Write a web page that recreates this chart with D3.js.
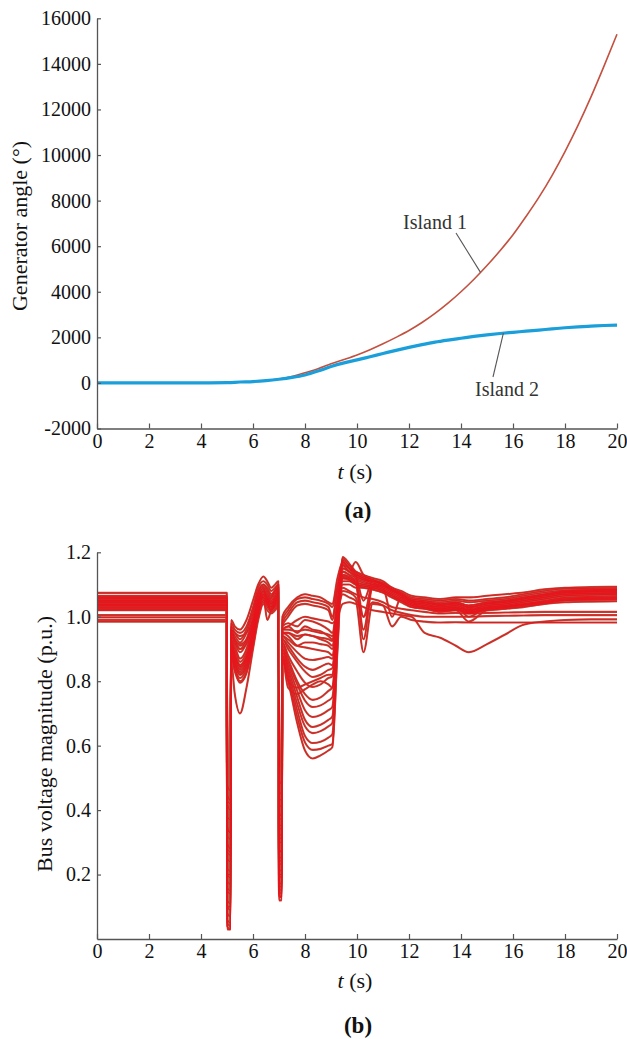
<!DOCTYPE html>
<html>
<head>
<meta charset="utf-8">
<script src="https://cdn.jsdelivr.net/npm/d3@7"></script>
<style>
  html, body { margin: 0; padding: 0; background: #fff; }
  svg text { font-family: "Liberation Serif", Tinos, "Times New Roman", "DejaVu Serif", serif; }
</style>
</head>
<body>
<svg id="fig" width="627" height="1039"></svg>
<script>
// ---- (a) generator rotor angles of the two islands ----
const timeA = [0, 1, 2, 3, 4, 5, 5.5, 6, 6.5, 7, 7.5, 8, 8.5, 9, 9.5, 10, 10.5, 11, 11.5, 12,
  12.5, 13, 13.5, 14, 14.5, 15, 15.5, 16, 16.5, 17, 17.5, 18, 18.5, 19, 19.5, 20];
const island1 = [0, 0, 0, 0, 0, 10, 40, 60, 100, 170, 280, 450, 620, 840, 1030, 1230, 1460, 1720, 2000, 2300,
  2650, 3050, 3500, 4000, 4550, 5150, 5800, 6500, 7300, 8150, 9100, 10150, 11300, 12550, 13900, 15300];
const island2 = [0, 0, 0, 0, 0, 10, 40, 60, 100, 160, 240, 350, 520, 720, 880, 1010, 1150, 1290, 1430, 1560,
  1680, 1790, 1880, 1960, 2040, 2110, 2170, 2220, 2270, 2320, 2370, 2420, 2460, 2490, 2520, 2540];
const angleTicks = [-2000, 0, 2000, 4000, 6000, 8000, 10000, 12000, 14000, 16000];
const timeTicks = [0, 2, 4, 6, 8, 10, 12, 14, 16, 18, 20];

// ---- (b) bus voltage magnitudes ----
const timeB = [0, 4.99, 5.01, 5.13, 5.16, 5.3, 5.5, 5.75, 6.0, 6.2,
  6.4, 6.55, 6.7, 6.85, 6.97, 7.0, 7.1, 7.13, 7.35, 7.7,
  8.0, 8.3, 8.6, 8.9, 9.05, 9.25, 9.45, 9.7, 9.95, 10.25,
  10.6, 11.0, 11.35, 11.7, 12.1, 12.6, 13.2, 13.8, 14.3, 15.0,
  15.7, 16.4, 17.2, 18.0, 19.0, 20.0];
const voltageTicks = [0.2, 0.4, 0.6, 0.8, 1.0, 1.2];
const busVoltages = [
  [1.074,1.074,0.42,0.40,0.99, 0.97,0.96,0.99,1.05,1.10, 1.125,1.11,1.09,1.10,1.11, 0.46,0.45,1.00,1.03,1.06, 1.07,1.065,1.06,1.045,1.04, 1.12,1.17,1.15,1.14,1.13, 1.12,1.11,1.09,1.08,1.065, 1.06,1.055,1.06,1.06,1.065, 1.07,1.075,1.085,1.09,1.092, 1.093],
  [1.065,1.065,0.35,0.33,0.98, 0.96,0.95,0.97,1.03,1.09, 1.11,1.10,1.08,1.09,1.10, 0.40,0.38,0.99,1.02,1.055, 1.06,1.055,1.05,1.04,1.03, 1.10,1.16,1.14,1.13,1.12, 1.11,1.10,1.085,1.075,1.06, 1.055,1.05,1.055,1.05,1.055, 1.06,1.07,1.08,1.087,1.088, 1.089],
  [1.062,1.062,0.30,0.28,0.97, 0.95,0.93,0.96,1.02,1.08, 1.10,1.09,1.07,1.08,1.09, 0.36,0.35,0.98,1.01,1.045, 1.05,1.045,1.04,1.03,1.00, 1.09,1.16,1.14,1.17,1.13, 1.115,1.10,1.08,1.07,1.055, 1.05,1.045,1.05,1.045,1.05, 1.055,1.065,1.075,1.082,1.084, 1.085],
  [1.06,1.06,0.25,0.24,0.96, 0.94,0.92,0.95,1.01,1.075, 1.10,1.085,1.065,1.085,1.10, 0.32,0.31,0.97,1.00,1.035, 1.04,1.035,1.03,1.02,0.99, 1.08,1.17,1.15,1.13,1.05, 1.11,1.105,1.085,1.07,1.05, 1.045,1.04,1.045,1.035,1.045, 1.05,1.06,1.07,1.078,1.08, 1.08],
  [1.057,1.057,0.20,0.19,0.96, 0.93,0.90,0.93,1.00,1.07, 1.095,1.08,1.06,1.08,1.095, 0.28,0.27,0.97,0.98,0.97, 0.99,0.985,0.975,0.96,0.95, 1.06,1.15,1.14,1.125,1.115, 1.11,1.10,1.085,1.07,1.05, 1.045,1.035,1.04,1.03,1.04, 1.045,1.055,1.065,1.074,1.076, 1.077],
  [1.055,1.055,0.45,0.43,0.95, 0.92,0.89,0.92,0.99,1.06, 1.09,1.04,1.06,1.075,1.09, 0.50,0.48,0.96,0.97,0.95, 0.97,0.96,0.955,0.94,0.93, 1.05,1.14,1.13,1.12,1.00, 1.10,1.095,1.08,1.065,1.045, 1.04,1.03,1.035,1.025,1.035, 1.04,1.05,1.06,1.07,1.072, 1.073],
  [1.052,1.052,0.15,0.14,0.94, 0.91,0.87,0.90,0.98,1.06, 1.09,1.075,1.055,1.07,1.085, 0.22,0.21,0.95,0.95,0.93, 0.945,0.94,0.93,0.92,0.91, 1.04,1.13,1.125,1.115,1.105, 1.10,1.09,1.00,1.06,1.045, 1.035,1.03,1.03,1.02,1.03, 1.035,1.045,1.055,1.065,1.068, 1.07],
  [1.05,1.05,0.10,0.10,0.93, 0.90,0.86,0.89,0.97,1.05, 1.085,1.07,1.05,1.065,1.08, 0.18,0.17,0.95,0.94,0.91, 0.905,0.90,0.895,0.89,0.88, 1.03,1.125,1.12,1.11,0.96, 1.095,1.09,1.075,1.06,1.04, 1.035,1.025,1.03,1.00,1.03, 1.035,1.04,1.05,1.06,1.063, 1.065],
  [1.048,1.048,0.08,0.07,0.93, 0.89,0.85,0.88,0.96,1.045, 1.08,1.065,1.045,1.06,1.075, 0.15,0.14,0.94,0.92,0.89, 0.87,0.866,0.87,0.875,0.87, 1.00,1.12,1.115,1.105,1.10, 1.095,1.085,1.07,1.055,1.04, 1.03,1.025,1.028,1.02,1.028, 1.032,1.04,1.048,1.058,1.06, 1.062],
  [1.045,1.045,0.05,0.04,0.92, 0.88,0.845,0.875,0.955,1.04, 1.075,1.06,1.04,1.055,1.07, 0.13,0.13,0.93,0.90,0.86, 0.83,0.813,0.82,0.835,0.84, 0.99,1.11,1.11,1.10,1.095, 1.09,1.08,1.065,1.05,1.035, 1.03,1.02,1.025,1.015,1.025, 1.03,1.037,1.045,1.055,1.057, 1.058],
  [1.043,1.043,0.03,0.03,0.91, 0.87,0.84,0.87,0.95,1.035, 1.07,1.055,1.04,1.05,1.065, 0.12,0.12,0.92,0.88,0.83, 0.795,0.782,0.79,0.81,0.815, 0.98,1.12,1.115,1.10,1.09, 1.085,1.075,1.06,1.05,1.035, 1.028,1.02,1.022,1.012,1.022, 1.028,1.035,1.042,1.052,1.054, 1.055],
  [1.04,1.04,0.18,0.17,0.91, 0.87,0.835,0.865,0.945,1.03, 1.07,1.055,1.035,1.05,1.06, 0.25,0.24,0.92,0.87,0.80, 0.76,0.742,0.75,0.77,0.78, 0.97,1.13,1.12,1.105,0.93, 1.09,1.08,1.065,1.05,1.03, 1.025,1.018,1.02,1.01,1.02, 1.025,1.032,1.04,1.05,1.052, 1.053],
  [1.038,1.038,0.12,0.11,0.92, 0.88,0.85,0.88,0.96,1.04, 1.08,1.06,1.04,1.055,1.065, 0.20,0.19,0.91,0.86,0.79, 0.74,0.72,0.725,0.74,0.75, 0.96,1.14,1.13,1.11,1.10, 1.095,1.085,1.07,1.055,1.035, 1.03,1.02,1.024,1.013,1.024, 1.03,1.038,1.046,1.055,1.058, 1.06],
  [1.035,1.035,0.06,0.05,0.90, 0.86,0.83,0.86,0.94,1.03, 1.065,1.05,1.03,1.045,1.06, 0.14,0.13,0.90,0.85,0.77, 0.71,0.689,0.695,0.71,0.72, 0.95,1.15,1.14,1.12,1.11, 1.10,1.09,1.075,1.06,1.04, 1.035,1.025,1.03,1.018,1.03, 1.035,1.045,1.055,1.065,1.068, 1.07],
  [1.033,1.033,0.28,0.27,0.90, 0.855,0.82,0.85,0.93,1.02, 1.06,1.045,1.03,1.045,1.055, 0.30,0.30,0.90,0.84,0.75, 0.68,0.658,0.665,0.68,0.69, 0.94,1.16,1.15,1.13,1.115, 1.105,1.095,1.08,1.065,1.045, 1.04,1.03,1.035,1.022,1.035, 1.04,1.05,1.06,1.07,1.073, 1.075],
  [1.03,1.03,0.38,0.37,0.89, 0.85,0.82,0.845,0.925,1.015, 1.055,1.04,1.025,1.04,1.05, 0.42,0.41,0.89,0.83,0.73, 0.66,0.639,0.645,0.66,0.67, 0.93,1.175,1.16,1.135,1.12, 1.11,1.10,1.085,1.07,1.05, 1.045,1.035,1.04,1.028,1.04, 1.045,1.055,1.065,1.075,1.078, 1.08],
  [1.028,1.028,0.22,0.21,0.88, 0.84,0.81,0.84,0.92,1.01, 1.05,1.04,1.02,1.035,1.045, 0.26,0.25,0.88,0.82,0.71, 0.63,0.608,0.612,0.625,0.635, 0.92,1.185,1.165,1.14,1.125, 1.115,1.10,1.085,1.07,1.05, 1.045,1.038,1.042,1.03,1.042, 1.048,1.058,1.068,1.078,1.081, 1.083],
  [1.025,1.025,0.16,0.15,0.88, 0.84,0.80,0.83,0.915,1.005, 1.05,1.035,1.02,1.03,1.04, 0.20,0.20,0.87,0.81,0.69, 0.61,0.587,0.59,0.60,0.605, 0.91,1.18,1.16,1.14,1.125, 1.115,1.105,1.09,1.075,1.055, 1.05,1.04,1.045,1.035,1.045, 1.05,1.06,1.07,1.08,1.083, 1.085],
  [1.022,1.022,0.04,0.03,0.87, 0.83,0.795,0.825,0.91,1.00, 1.045,1.03,1.015,1.025,1.035, 0.16,0.15,0.86,0.80,0.67, 0.585,0.56,0.57,0.585,0.595, 0.90,1.17,1.155,1.135,1.12, 1.11,1.10,1.085,1.07,1.05, 1.045,1.035,1.04,1.03,1.04, 1.045,1.055,1.065,1.075,1.078, 1.08],
  [1.02,1.02,0.48,0.46,0.86, 0.76,0.70,0.78,0.90,0.99, 1.04,1.02,1.01,1.02,1.03, 0.35,0.34,0.88,0.80,0.78, 0.79,0.80,0.81,0.82,0.82, 0.98,1.10,1.10,1.09,1.09, 1.085,1.075,1.06,1.045,1.03, 1.025,1.015,1.02,0.985,1.02, 1.025,1.03,1.04,1.045,1.047, 1.048],
  [1.005,1.005,0.32,0.31,0.95, 0.93,0.915,0.93,0.98,1.04, 1.07,1.05,1.03,1.045,1.06, 0.38,0.37,0.96,0.96,0.955, 0.96,0.955,0.95,0.945,0.94, 1.02,1.09,1.08,1.07,1.06, 1.055,1.045,1.03,1.025,1.02, 1.015,1.01,1.012,1.01,1.012, 1.013,1.014,1.015,1.015,1.015, 1.015],
  [0.998,0.998,0.27,0.26,0.95, 0.93,0.91,0.925,0.975,1.035, 1.06,0.99,1.02,1.04,1.05, 0.33,0.32,0.95,0.95,0.94, 0.945,0.94,0.935,0.93,0.925, 1.01,1.07,1.06,1.05,0.89, 1.04,1.035,1.02,1.012,1.005, 1.00,1.00,1.00,1.00,1.002, 1.003,1.004,1.005,1.005,1.005, 1.005],
  [0.99,0.99,0.20,0.20,0.96, 0.95,0.94,0.95,0.99,1.04, 1.065,1.045,1.02,1.035,1.045, 0.28,0.27,0.96,0.97,0.99, 1.00,0.995,0.99,0.985,0.98, 1.00,1.04,1.045,1.04,1.03, 1.02,1.015,1.01,1.005,1.00, 0.95,0.935,0.91,0.89,0.915, 0.945,0.975,0.985,0.99,0.992, 0.992],
  [0.985,0.985,0.43,0.42,0.94, 0.92,0.90,0.915,0.97,1.03, 1.06,1.04,1.02,1.035,1.045, 0.44,0.43,0.94,0.93,0.91, 0.92,0.92,0.915,0.91,0.90, 1.00,1.08,1.075,1.06,1.00, 1.045,1.035,0.97,1.00,0.99, 0.985,0.982,0.983,0.982,0.982, 0.982,0.982,0.982,0.982,0.982, 0.982],
  [1.046,1.046,0.10,0.09,0.92, 0.88,0.845,0.87,0.95,1.04, 1.08,1.06,1.045,1.06,1.075, 0.17,0.16,0.93,0.91,0.87, 0.845,0.835,0.845,0.855,0.85, 0.995,1.165,1.15,1.125,1.115, 1.105,1.095,1.08,1.065,1.045, 1.04,1.03,1.035,1.02,1.035, 1.04,1.05,1.06,1.07,1.072, 1.074],
  [1.036,1.036,0.34,0.33,0.90, 0.86,0.825,0.855,0.935,1.025, 1.06,1.045,1.03,1.045,1.055, 0.24,0.23,0.87,0.78,0.76, 0.775,0.79,0.80,0.79,0.78, 0.97,1.12,1.12,1.10,1.095, 1.09,1.08,1.065,1.05,1.035, 1.028,1.022,1.026,1.015,1.026, 1.03,1.036,1.044,1.052,1.055, 1.056]
];

const svg = d3.select("#fig");
const FONT = '"Liberation Serif", Tinos, "Times New Roman", "DejaVu Serif", serif';
const AXIS_COLOR = "#555";

function drawAxes(g, x, y, yTickValues, yFormat) {
  const xAxis = d3.axisBottom(x).tickValues(timeTicks).tickFormat(d => String(d))
    .tickSizeInner(-5).tickSizeOuter(0).tickPadding(5);
  const yAxis = d3.axisLeft(y).tickValues(yTickValues).tickFormat(yFormat)
    .tickSizeInner(-4).tickSizeOuter(0).tickPadding(6);
  const gx = g.append("g").attr("transform", `translate(0,${y.range()[0]})`).call(xAxis);
  const gy = g.append("g").attr("transform", `translate(${x.range()[0]},0)`).call(yAxis);
  [gx, gy].forEach(a => {
    a.attr("font-family", FONT).attr("font-size", 20);
    a.select(".domain").attr("stroke", AXIS_COLOR).attr("stroke-width", 1.3);
    a.selectAll(".tick line").attr("stroke", AXIS_COLOR).attr("stroke-width", 1.2);
    a.selectAll(".tick text").attr("fill", "#111").attr("font-family", FONT).attr("font-size", 20);
  });
}

function timeLabel(cx, baseline) {
  const t = svg.append("text").attr("x", cx).attr("y", baseline).attr("text-anchor", "middle")
    .attr("font-family", FONT).attr("font-size", 22).attr("fill", "#111");
  t.append("tspan").attr("font-style", "italic").text("t");
  t.append("tspan").text(" (s)");
}

function panelTag(cx, baseline, s) {
  svg.append("text").attr("x", cx).attr("y", baseline).attr("text-anchor", "middle")
    .attr("font-family", FONT).attr("font-size", 23).attr("font-weight", "bold")
    .attr("fill", "#111").text(s);
}

function yTitle(cx, cy, s) {
  svg.append("text").attr("transform", `translate(${cx},${cy}) rotate(-90)`)
    .attr("text-anchor", "middle").attr("dominant-baseline", "central")
    .attr("font-family", FONT).attr("font-size", 22).attr("fill", "#111").text(s);
}

// ---------- panel (a) ----------
const xA = d3.scaleLinear().domain([0, 20]).range([97, 617]);
const yA = d3.scaleLinear().domain([-2000, 16000]).range([428.5, 18.3]);
const gA = svg.append("g");

const lineA = vals => d3.line()
  .x((d, i) => xA(timeA[i])).y(d => yA(d)).curve(d3.curveMonotoneX)(vals);

gA.append("path").attr("d", lineA(island1)).attr("fill", "none")
  .attr("stroke", "#c4503f").attr("stroke-width", 1.6);
gA.append("path").attr("d", lineA(island2)).attr("fill", "none")
  .attr("stroke", "#1a9fdb").attr("stroke-width", 3.2);

drawAxes(gA, xA, yA, angleTicks, d => String(d));

// point on a sampled series at time t (for the leader lines)
function valueAt(series, t) {
  const i = d3.bisectRight(timeA, t) - 1;
  const f = (t - timeA[i]) / (timeA[i + 1] - timeA[i]);
  return series[i] + f * (series[i + 1] - series[i]);
}

const lab1 = { t: 14.75, x: 456, y: 233 };
const lab2 = { t: 15.63, x: 493, y: 377 };
gA.append("line").attr("x1", lab1.x).attr("y1", lab1.y)
  .attr("x2", xA(lab1.t)).attr("y2", yA(valueAt(island1, lab1.t)))
  .attr("stroke", "#555").attr("stroke-width", 1.1);
gA.append("line").attr("x1", lab2.x).attr("y1", lab2.y)
  .attr("x2", xA(lab2.t)).attr("y2", yA(valueAt(island2, lab2.t)))
  .attr("stroke", "#555").attr("stroke-width", 1.1);
gA.append("text").attr("x", 435).attr("y", 229).attr("text-anchor", "middle")
  .attr("font-family", FONT).attr("font-size", 20).attr("fill", "#333").text("Island 1");
gA.append("text").attr("x", 507).attr("y", 396).attr("text-anchor", "middle")
  .attr("font-family", FONT).attr("font-size", 20).attr("fill", "#333").text("Island 2");

yTitle(19, 226, "Generator angle (\u00B0)");
timeLabel(355, 479);
panelTag(358, 518, "(a)");

// ---------- panel (b) ----------
const xB = d3.scaleLinear().domain([0, 20]).range([97, 617]);
const yB = d3.scaleLinear().domain([0, 1.2]).range([939, 552.3]);
const gB = svg.append("g");

const lineB = d3.line()
  .x((d, i) => xB(timeB[i])).y(d => yB(d)).curve(d3.curveMonotoneX);

// darker halo first, bright core on top
gB.append("g").selectAll("path").data(busVoltages).join("path")
  .attr("d", lineB).attr("fill", "none")
  .attr("stroke", "#b9503e").attr("stroke-width", 2.1).attr("stroke-linejoin", "round");
gB.append("g").selectAll("path").data(busVoltages).join("path")
  .attr("d", lineB).attr("fill", "none")
  .attr("stroke", "#e8141c").attr("stroke-width", 0.9).attr("stroke-linejoin", "round");

drawAxes(gB, xB, yB, voltageTicks, d3.format(".1f"));

yTitle(44, 744, "Bus voltage magnitude (p.u.)");
timeLabel(355, 988);
panelTag(358, 1033, "(b)");
</script>
</body>
</html>
